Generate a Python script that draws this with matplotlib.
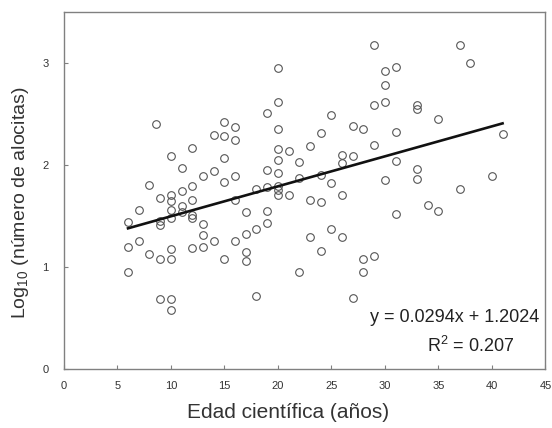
import matplotlib
matplotlib.use("Agg")
import matplotlib.pyplot as plt
import numpy as np

plt.rcParams["font.family"] = ["Liberation Sans", "DejaVu Sans"]
plt.rcParams["mathtext.fontset"] = "custom"
plt.rcParams["mathtext.rm"] = "Liberation Sans"
plt.rcParams["mathtext.it"] = "Liberation Sans:italic"

# scientific age (years) and log10(number of alocitas)
edad = [
    6, 6, 6,
    7, 7,
    8, 8, 8.6,
    9, 9, 9, 9, 9,
    10, 10, 10, 10, 10, 10, 10, 10, 10,
    11, 11, 11, 11,
    12, 12, 12, 12, 12, 12,
    13, 13, 13, 13,
    14, 14, 14,
    15, 15, 15, 15, 15,
    16, 16, 16, 16, 16,
    17, 17, 17, 17,
    18, 18, 18,
    19, 19, 19, 19, 19,
    20, 20, 20, 20, 20, 20, 20, 20, 20,
    21, 21,
    22, 22, 22,
    23, 23, 23,
    24, 24, 24, 24,
    25, 25, 25,
    26, 26, 26, 26,
    27, 27, 27,
    28, 28, 28,
    29, 29, 29, 29,
    30, 30, 30, 30,
    31, 31, 31, 31,
    33, 33, 33, 33,
    34,
    35, 35,
    37, 37,
    38,
    40,
    41,
]
log_alocitas = [
    1.44, 1.20, 0.95,
    1.56, 1.25,
    1.80, 1.13, 2.40,
    1.68, 1.45, 1.41, 1.08, 0.69,
    2.09, 1.71, 1.65, 1.56, 1.48, 1.18, 1.08, 0.69, 0.58,
    1.97, 1.745, 1.60, 1.54,
    2.17, 1.79, 1.66, 1.51, 1.48, 1.19,
    1.89, 1.42, 1.31, 1.20,
    2.29, 1.94, 1.255,
    2.42, 2.28, 2.07, 1.83, 1.08,
    2.37, 2.24, 1.89, 1.66, 1.25,
    1.54, 1.32, 1.15, 1.06,
    1.76, 1.37, 0.72,
    2.51, 1.95, 1.78, 1.55, 1.43,
    2.95, 2.62, 2.35, 2.16, 2.05, 1.92, 1.79, 1.75, 1.71,
    2.14, 1.71,
    2.03, 1.87, 0.95,
    2.19, 1.66, 1.29,
    2.31, 1.90, 1.64, 1.16,
    2.49, 1.82, 1.37,
    2.10, 2.02, 1.71, 1.29,
    2.38, 2.09, 0.70,
    2.35, 1.08, 0.95,
    3.18, 2.59, 2.20, 1.11,
    2.92, 2.78, 2.62, 1.85,
    2.96, 2.32, 2.04, 1.52,
    2.59, 2.55, 1.96, 1.86,
    1.61,
    2.45, 1.55,
    3.18, 1.76,
    3.00,
    1.89,
    2.30,
]

slope = 0.0294
intercept = 1.2024
r_squared = 0.207

x_ticks = [0, 5, 10, 15, 20, 25, 30, 35, 40, 45]
y_ticks = [0, 1, 2, 3]

fig = plt.figure(figsize=(5.52, 4.28), dpi=100)
ax = fig.add_axes([0.1156, 0.138, 0.8724, 0.834])

ax.plot(edad, log_alocitas, linestyle="none", marker="o", markersize=5.5,
        markerfacecolor="none", markeredgecolor="#555555", markeredgewidth=0.8)

x_line = np.array([min(edad), max(edad)])
ax.plot(x_line, slope * x_line + intercept, color="#111111", linewidth=1.9)

ax.set_xlim(0, 45)
ax.set_ylim(0, 3.5)
ax.set_xticks(x_ticks)
ax.set_yticks(y_ticks)
ax.tick_params(direction="in", length=3, width=0.8, color="#808080",
               labelsize=8, labelcolor="#333333")
ax.tick_params(axis="x", pad=9)
ax.tick_params(axis="y", pad=11)

for spine in ax.spines.values():
    spine.set_color("#808080")
    spine.set_linewidth(1.0)

ax.set_xlabel("Edad científica (años)", fontsize=15, color="#333333")
ax.set_ylabel("Log$_{10}$ (número de alocitas)", fontsize=14, color="#333333")
ax.xaxis.set_label_coords(0.466, -0.095)
ax.yaxis.set_label_coords(-0.068, 0.465)

ax.text(36.5, 0.50, f"y = {slope}x + {intercept}", ha="center", va="center",
        fontsize=13, color="#222222")
ax.text(38.06, 0.225, f"R$^2$ = {r_squared}", ha="center", va="center",
        fontsize=13, color="#222222")

fig.savefig("out.png", dpi=100)
